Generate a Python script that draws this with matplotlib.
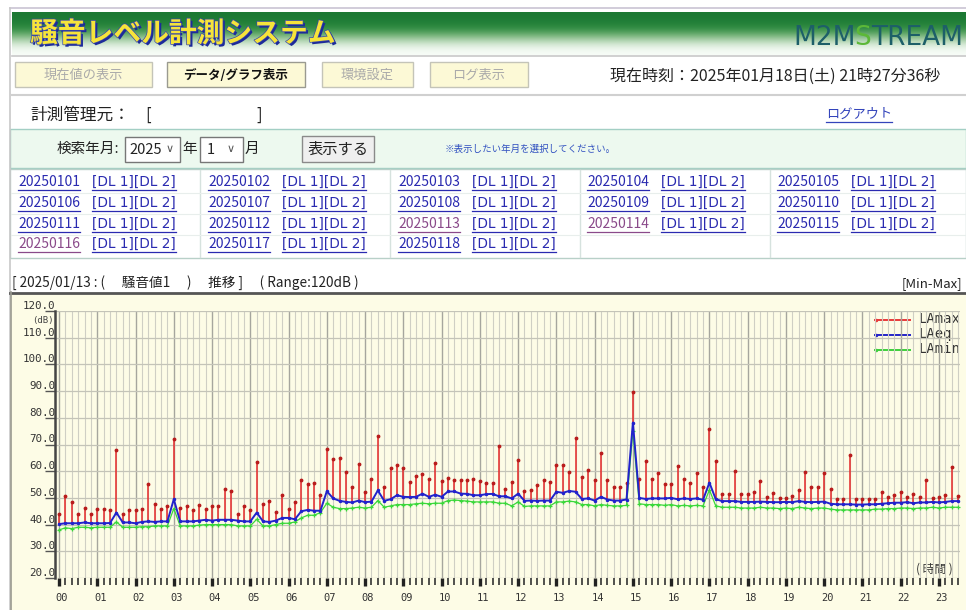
import numpy as np
import matplotlib.pyplot as plt
import matplotlib.patheffects as pe
from matplotlib.patches import Rectangle
from matplotlib.transforms import ScaledTranslation

JP = ['Noto Sans CJK JP', 'DejaVu Sans']
MONO = 'DejaVu Sans Mono'

# 10-minute values, 00:00 .. 23:30
lamax = [44.0, 50.8, 48.5, 44.0, 46.4, 44.0, 46.0, 45.8, 45.4, 67.9,
         44.0, 45.4, 45.6, 45.8, 55.1, 47.9, 45.8, 47.1, 71.9, 46.4,
         47.0, 45.4, 47.5, 46.0, 47.1, 47.1, 53.5, 52.5, 44.0, 47.1,
         45.5, 63.5, 47.9, 48.9, 44.8, 51.0, 46.0, 48.5, 56.6, 55.1,
         55.6, 51.0, 68.3,
         64.5, 65.1, 59.8, 54.2, 62.8, 52.2, 57.0, 73.3, 54.0, 61.3,
         62.3, 61.2, 56.1, 58.2, 58.9, 57.1, 63.0, 56.2, 57.4, 56.7,
         56.7, 56.7, 57.1, 56.3, 55.7, 55.7, 69.4, 53.5, 55.8, 64.3,
         52.7, 53.0, 55.0, 56.7, 56.1, 62.5, 62.2, 59.8, 72.3, 57.9,
         60.3, 56.7, 66.7, 56.7, 54.0, 54.0, 55.4, 89.7, 57.2, 64.0,
         57.2, 59.2,
         55.1, 55.1, 61.9, 57.0, 55.5, 59.5, 54.2, 75.7, 63.8, 51.5,
         51.5, 60.1, 51.5, 51.5, 52.3, 56.3, 50.5, 52.0, 49.8, 49.8,
         50.7, 53.0, 59.8, 54.0, 54.2, 59.5, 53.3, 49.5, 49.5, 66.2,
         49.5, 49.5, 49.5, 49.5, 52.1, 50.2, 51.1, 52.2, 50.2, 51.5,
         50.2, 56.7, 49.8, 50.2, 51.1, 61.7, 50.7]

laeq = [40.2, 40.5, 40.5, 40.5, 40.8, 40.5, 40.5, 40.5, 40.6, 44.5,
        40.8, 40.8, 40.5, 41.0, 41.2, 41.0, 41.2, 41.2, 49.5, 41.2,
        41.2, 41.2, 41.5, 41.8, 41.5, 41.8, 41.8, 41.8, 41.5, 41.2,
        41.2, 44.5, 41.2, 41.0, 41.5, 42.5, 42.5, 42.0, 45.0, 45.5,
        45.2, 45.2, 52.5,
        49.8, 48.9, 48.5, 48.3, 49.0, 48.4, 48.6, 52.8, 48.9, 49.5,
        51.0, 50.4, 50.3, 50.4, 51.6, 50.4, 51.2, 50.4, 52.4, 52.4,
        51.6, 51.5, 51.0, 51.0, 51.4, 51.5, 50.6, 50.6, 49.8, 51.6,
        48.9, 49.0, 48.9, 49.0, 49.0, 52.3, 51.9, 52.6, 52.3, 49.6,
        49.8, 49.0, 50.4, 49.4, 49.0, 49.0, 49.4, 78.2, 50.0, 49.6,
        49.8, 49.8,
        49.8, 50.0, 49.5, 49.8, 49.6, 49.8, 49.3, 55.7, 49.5, 48.8,
        48.8, 48.8, 48.5, 48.5, 48.5, 48.6, 48.5, 48.4, 48.4, 48.5,
        48.4, 48.8, 48.5, 48.4, 48.5, 48.6, 47.8, 47.6, 47.6, 47.6,
        47.5, 47.5, 47.6, 47.6, 47.8, 48.0, 48.2, 48.2, 48.4, 48.0,
        48.3, 48.3, 48.5, 48.3, 48.5, 48.8, 48.8]

lamin = [38.0, 38.8, 38.5, 39.0, 39.0, 38.8, 39.0, 39.0, 39.0, 41.0,
         39.0, 39.0, 39.0, 39.2, 39.2, 39.5, 39.5, 39.5, 46.0, 39.5,
         39.5, 39.5, 39.8, 40.0, 40.0, 40.0, 40.0, 40.0, 39.5, 39.5,
         39.5, 42.0, 39.5, 39.5, 40.0, 40.5, 40.5, 41.0, 42.5, 43.5,
         43.5, 44.5, 48.0,
         46.5, 46.0, 46.0, 46.2, 46.5, 46.2, 46.5, 49.0, 46.5, 47.0,
         47.5, 47.5, 47.5, 47.8, 48.0, 47.8, 48.0, 48.0, 49.0, 49.2,
         49.0, 48.8, 48.5, 48.5, 48.5, 48.5, 48.0, 48.0, 47.0, 48.5,
         46.8, 47.0, 47.0, 47.0, 47.0, 48.5, 48.5, 48.8, 48.5, 47.5,
         47.5, 47.0, 47.5, 47.2, 47.0, 47.0, 47.2, 75.0, 47.8, 47.5,
         47.5, 47.5,
         47.2, 47.5, 47.0, 47.2, 47.0, 47.2, 47.0, 53.0, 47.0, 46.5,
         46.5, 46.5, 46.2, 46.2, 46.2, 46.5, 46.2, 46.2, 46.0, 46.2,
         46.0, 46.5, 46.2, 46.0, 46.2, 46.2, 45.8, 45.5, 45.5, 45.5,
         45.5, 45.5, 45.5, 45.8, 45.8, 46.0, 46.0, 46.2, 46.2, 46.0,
         46.2, 46.2, 46.5, 46.2, 46.5, 46.5, 46.5]

hour_labels = ['%02d' % h for h in range(24)]
y_ticks = [20, 30, 40, 50, 60, 70, 80, 90, 100, 110, 120]

dates = ['20250101', '20250102', '20250103', '20250104', '20250105',
         '20250106', '20250107', '20250108', '20250109', '20250110',
         '20250111', '20250112', '20250113', '20250114', '20250115',
         '20250116', '20250117', '20250118']
visited = ['20250113', '20250114', '20250116']
buttons = ['現在値の表示', 'データ/グラフ表示', '環境設定', 'ログ表示']

fig = plt.figure(figsize=(9.66, 6.10), dpi=100)
page = fig.add_axes([0, 0, 1, 1])
page.set_xlim(0, 966)
page.set_ylim(610, 0)
page.axis('off')


def txt(x, y, s, size=10, color='#222222', ha='left', va='center', **kw):
    kw.setdefault('family', JP)
    return page.text(x, y, s, fontsize=size, color=color, ha=ha, va=va, **kw)


def box(x0, y0, x1, y1, fc, ec, lw=1.0):
    page.add_patch(Rectangle((x0, y0), x1 - x0, y1 - y0, facecolor=fc,
                             edgecolor=ec, linewidth=lw))


renderer = fig.canvas.get_renderer()


def link(x, y, s, color, size=10, family=JP):
    t = txt(x, y, s, size, color, family=family)
    bb = t.get_window_extent(renderer)
    inv = page.transData.inverted()
    x0 = inv.transform((bb.x0, bb.y0))[0]
    x1 = inv.transform((bb.x1, bb.y0))[0]
    page.plot([x0, x1], [y + 7.5, y + 7.5], color=color, lw=0.9)


# page borders
page.plot([10, 966], [8, 8], color='#c9c3d3', lw=1.2)
page.plot([10, 10], [8, 610], color='#c8c8c8', lw=1.2)

# banner
grad = np.array([[0.11, 0.47, 0.20], [0.13, 0.50, 0.22], [0.22, 0.57, 0.28],
                 [0.55, 0.75, 0.55], [0.85, 0.92, 0.85], [0.97, 0.99, 0.97]])
page.imshow(grad[:, None, :], extent=[12, 966, 55, 12], aspect='auto',
            interpolation='bicubic')
page.set_xlim(0, 966)
page.set_ylim(610, 0)
txt(30, 34, '騒音レベル計測システム', size=20, color='#f6e43a', weight='bold',
    path_effects=[pe.SimplePatchShadow(offset=(1.6, -1.6), shadow_rgbFace='#1d2a9a', alpha=1.0),
                  pe.Stroke(linewidth=1.0, foreground='#3a48a8'), pe.Normal()])
txt(793, 38, 'M2M', size=19, color='#1d5f68', family='DejaVu Sans')
txt(854, 38, 'S', size=19, color='#5cb838', family='DejaVu Sans')
txt(871, 38, 'TREAM', size=19, color='#1d5f68', family='DejaVu Sans')
page.plot([12, 966], [56, 56], color='#c8c8c8', lw=1.2)

# menu buttons
btn_x = [(15, 152), (167, 305), (322, 413), (430, 528)]
for (x0, x1), name in zip(btn_x, buttons):
    active = name == 'データ/グラフ表示'
    box(x0, 62, x1, 87, '#fcf9d6', '#9a9a90' if active else '#c4c4b8')
    txt((x0 + x1) / 2, 75, name, size=9 if active else 9.5,
        color='#111111' if active else '#aaaaaa', ha='center',
        weight='bold' if active else 'normal')
txt(610, 76, '現在時刻：2025年01月18日(土) 21時27分36秒', size=11.5, color='#222222')
page.plot([12, 966], [95, 95], color='#d0d0d0', lw=1.5)

txt(30, 115, '計測管理元：', size=12)
txt(145, 115, '[', size=12)
txt(256, 115, ']', size=12)
link(826, 114, 'ログアウト', '#3344bb', size=9.5)

# search panel
box(10, 129, 966, 168, '#edf9ef', '#a3cfc4')
txt(57, 149, '検索年月:', size=10.5)
box(125, 137, 180, 162, 'white', '#777777')
txt(129, 149.5, '2025', size=10.5)
txt(166, 149.5, '∨', size=8, color='#555555', family='DejaVu Sans')
txt(182, 149, '年', size=10.5)
box(200, 137, 243, 162, 'white', '#777777')
txt(207, 149.5, '1', size=10.5)
txt(227, 149.5, '∨', size=8, color='#555555', family='DejaVu Sans')
txt(245, 149, '月', size=10.5)
box(302, 136, 374, 162, '#efefef', '#8a8a8a')
txt(338, 149, '表示する', size=11, ha='center')
txt(445, 149, '※表示したい年月を選択してください。', size=6.8, color='#3050c0')

# date table
box(10, 169, 966, 258, 'white', '#b8d0c8')
for xc in [200, 390, 580, 770]:
    page.plot([xc, xc], [170, 257], color='#d6e2de', lw=1)
for yr in [192.5, 213.5, 234.5]:
    page.plot([11, 966], [yr, yr], color='#e8eeec', lw=0.8)
col_x = [18, 208, 398, 587, 777]
row_y = [182, 203, 224, 244]
for i, d in enumerate(dates):
    cx, ry = col_x[i % 5], row_y[i // 5]
    link(cx, ry, d, '#8a4a8a' if d in visited else '#2a2ab0', size=10)
    link(cx + 74, ry, '[DL 1][DL 2]', '#2a2ab0', size=9.8, family='DejaVu Sans')

# chart header + frame
txt(12, 283, '[ 2025/01/13 : (　 騒音値1　 )　 推移 ]　 ( Range:120dB )', size=9.8)
txt(962, 284, '[Min-Max]', size=9.5, ha='right')
box(11, 293, 968, 612, '#fdfce6', 'none')
page.plot([10, 966], [292.5, 292.5], color='#555555', lw=2)
page.plot([11, 11], [292, 610], color='#9a9a90', lw=1.2)

# legend
leg = [('LAmax', '#e8393a', 320), ('LAeq', '#2424c8', 335), ('LAmin', '#3ccf3c', 350)]
for name, c, ly in leg:
    page.plot([875, 910], [ly, ly], color=c, lw=1.4)
    page.plot([876], [ly], marker='.', ms=3, color=c)
    txt(918, ly - 1, name, size=10, color='#333333', family=MONO)
txt(43, 321, '(dB)', size=6.5, color='#444444', ha='center', family=MONO)
txt(934, 569, '( 時間 )', size=8.5, color='#333333', ha='center')

# chart axes
L, R, T, B = 55, 960, 311, 578
ax = fig.add_axes([L / 966, 1 - B / 610, (R - L) / 966, (B - T) / 610])
ax.set_facecolor('none')
x = np.arange(len(lamax))
ax.set_xlim(-0.63, 141.3)
ax.set_ylim(20, 120)

ax.set_xticks(np.arange(0, 139, 6))
ax.set_xticklabels(hour_labels)
ax.set_xticks(x, minor=True)
ax.set_yticks(y_ticks)
ax.set_yticklabels(['%.1f' % v for v in y_ticks])
ax.grid(which='minor', axis='x', color='#cfcfc4', lw=0.8)
ax.grid(which='major', axis='x', color='#a6a69e', lw=1.0)
ax.grid(which='major', axis='y', color='#c4c4b8', lw=0.9)
ax.set_axisbelow(True)

ax.tick_params(axis='x', which='major', length=6, width=2.4, color='#222222',
               labelsize=7.5, pad=5, labelcolor='#333333')
ax.tick_params(axis='x', which='minor', length=5, width=1.2, color='#333333')
ax.tick_params(axis='y', length=7, width=1, color='#555555', pad=-7,
               labelsize=7.8, labelcolor='#333333')
for lab in ax.get_xticklabels():
    lab.set_family(MONO)
    lab.set_transform(lab.get_transform() + ScaledTranslation(3 / 100, 0, fig.dpi_scale_trans))
for lab in ax.get_yticklabels():
    lab.set_family(MONO)
    lab.set_va('bottom')

for side in ['top', 'right', 'bottom']:
    ax.spines[side].set_visible(False)
ax.spines['left'].set_color('#444444')
ax.spines['left'].set_linewidth(1.8)

ax.vlines(x, laeq, lamax, color='#e53030', lw=1.15, zorder=3, clip_on=False)
ax.plot(x, lamax, ls='none', marker='.', ms=3.5, color='#b81c1c', zorder=4, clip_on=False)
ax.plot(x, lamin, color='#3ad83a', lw=0.9, marker='+', ms=3.5, mew=0.9, zorder=4, clip_on=False)
ax.plot(x, laeq, color='#2222cc', lw=1.4, marker='.', ms=3, zorder=5, clip_on=False)

fig.savefig('out.png', dpi=100)
